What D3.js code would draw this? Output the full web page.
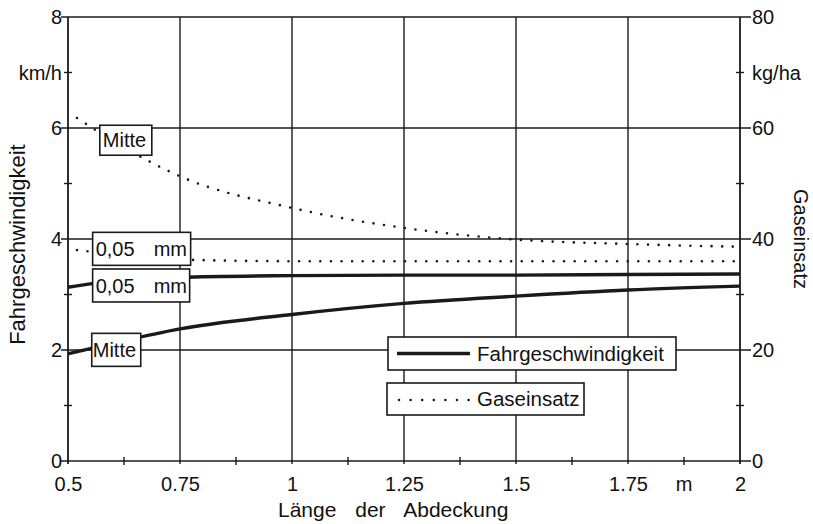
<!DOCTYPE html>
<html>
<head>
<meta charset="utf-8">
<script src="https://cdn.jsdelivr.net/npm/d3@7"></script>
<style>
  html, body { margin: 0; padding: 0; background: #fff; }
  svg { display: block; }
  text { font-family: "Liberation Sans", Arial, Helvetica, sans-serif; fill: #111; }
</style>
</head>
<body>
<svg id="chart" width="813" height="524"></svg>
<script>
// Length of the cover (m)
const xTicks = [0.5, 0.75, 1, 1.25, 1.5, 1.75, 2];
const xTickLabels = ["0.5", "0.75", "1", "1.25", "1.5", "1.75", "2"];
const xMinor = [0.625, 0.875, 1.125, 1.375, 1.625, 1.875];

// Left axis: driving speed (km/h)
const speedTicks = [0, 2, 4, 6, 8];
const speedMinor = [1, 3, 5, 7];
// Right axis: gas input (kg/ha)
const gasTicks = [0, 20, 40, 60, 80];
const gasMinor = [10, 30, 50, 70];

// Fahrgeschwindigkeit (km/h)
const speedLength = [0.5, 0.6, 0.75, 1, 1.25, 1.5, 1.75, 2];
const speedMitte  = [1.93, 2.12, 2.38, 2.64, 2.84, 2.97, 3.08, 3.15];
const speed005    = [3.13, 3.24, 3.31, 3.34, 3.35, 3.35, 3.36, 3.37];

// Gaseinsatz (kg/ha)
const gasLength = [0.52, 0.6, 0.75, 1, 1.25, 1.5, 1.75, 2];
const gasMitte  = [61.8, 57.7, 51.3, 45.6, 42.0, 39.9, 39.1, 38.6];
const gas005    = [38.0, 37.3, 36.3, 36.0, 36.0, 36.0, 36.0, 36.0];

const svg = d3.select("#chart");
const L = 68, R = 740, T = 17, B = 461;
const ink = "#1a1a1a";

const x = d3.scaleLinear().domain([0.5, 2]).range([L, R]);
const yL = d3.scaleLinear().domain([0, 8]).range([B, T]);
const yR = d3.scaleLinear().domain([0, 80]).range([B, T]);

const grid = svg.append("g").attr("stroke", ink).attr("stroke-width", 1.4).attr("fill", "none");

// horizontal grid lines, extended past both axes as ticks
grid.selectAll("line.h").data(speedTicks).join("line")
  .attr("x1", L - 7).attr("x2", R + 11)
  .attr("y1", d => yL(d)).attr("y2", d => yL(d));

// vertical grid lines incl. both axes
grid.selectAll("line.v").data(xTicks).join("line")
  .attr("x1", d => x(d)).attr("x2", d => x(d))
  .attr("y1", T).attr("y2", B + 3)
  .attr("stroke-width", (d, i) => (i === 0 || i === xTicks.length - 1) ? 1.8 : 1.4);

// minor crossing ticks on left and right axes
[L, R].forEach(ax => {
  grid.append("g").selectAll("line").data(speedMinor).join("line")
    .attr("x1", ax - 4).attr("x2", ax + 4)
    .attr("y1", d => yL(d)).attr("y2", d => yL(d));
});
// minor crossing ticks on bottom axis
grid.append("g").selectAll("line").data(xMinor).join("line")
  .attr("x1", d => x(d)).attr("x2", d => x(d))
  .attr("y1", B - 4).attr("y2", B + 4);

// axes through d3 (labels only; lines drawn above)
const axLeft = svg.append("g").attr("transform", `translate(${L},0)`)
  .call(d3.axisLeft(yL).tickValues(speedTicks).tickSize(0).tickPadding(6).tickFormat(d3.format("d")));
const axRight = svg.append("g").attr("transform", `translate(${R},0)`)
  .call(d3.axisRight(yR).tickValues(gasTicks).tickSize(0).tickPadding(12).tickFormat(d3.format("d")));
const axBottom = svg.append("g").attr("transform", `translate(0,${B})`)
  .call(d3.axisBottom(x).tickValues(xTicks).tickSize(0).tickPadding(16).tickFormat((d, i) => xTickLabels[i]));

[axLeft, axRight, axBottom].forEach(g => {
  g.select(".domain").remove();
  g.selectAll("text").attr("font-size", 20).attr("fill", ink)
    .attr("font-family", "'Liberation Sans', Arial, Helvetica, sans-serif");
});

// unit labels
svg.append("text").attr("x", L - 6).attr("y", yL(7)).attr("dy", "0.35em")
  .attr("text-anchor", "end").attr("font-size", 20).text("km/h");
svg.append("text").attr("x", R + 12).attr("y", yR(70)).attr("dy", "0.35em")
  .attr("text-anchor", "start").attr("font-size", 20).text("kg/ha");
svg.append("text").attr("x", x(1.875)).attr("y", B + 16).attr("dy", "0.71em")
  .attr("text-anchor", "middle").attr("font-size", 20).text("m");

// axis titles
svg.append("text").attr("transform", `translate(25,${yL(3.9)}) rotate(-90)`)
  .attr("text-anchor", "middle").attr("font-size", 22).text("Fahrgeschwindigkeit");
svg.append("text").attr("transform", `translate(794,${yL(4)}) rotate(90)`)
  .attr("text-anchor", "middle").attr("font-size", 20).text("Gaseinsatz");
svg.append("text").attr("x", 278).attr("y", 517)
  .attr("font-size", 21).attr("word-spacing", 13).text("Länge der Abdeckung");

// data lines
const speedLine = d3.line().curve(d3.curveMonotoneX).x(d => x(d[0])).y(d => yL(d[1]));
const gasLine = d3.line().curve(d3.curveMonotoneX).x(d => x(d[0])).y(d => yR(d[1]));

const solid = s => svg.append("path").attr("d", speedLine(d3.zip(speedLength, s)))
  .attr("fill", "none").attr("stroke", ink).attr("stroke-width", 3.4).attr("stroke-linejoin", "round");
solid(speedMitte);
solid(speed005);

const dotted = s => svg.append("path").attr("d", gasLine(d3.zip(gasLength, s)))
  .attr("fill", "none").attr("stroke", ink).attr("stroke-width", 2.6)
  .attr("stroke-linecap", "round").attr("stroke-dasharray", "0 10.6");
dotted(gasMitte);
dotted(gas005);

// curve labels in white boxes
function box(x0, y0, w, h) {
  svg.append("rect").attr("x", x0).attr("y", y0).attr("width", w).attr("height", h)
    .attr("fill", "#fff").attr("stroke", ink).attr("stroke-width", 1.6);
}
function label(x0, y0, w, h, parts) {
  box(x0, y0, w, h);
  parts.forEach(p => svg.append("text").attr("x", x0 + p[0]).attr("y", y0 + h / 2).attr("dy", "0.36em")
    .attr("font-size", 20).text(p[1]));
}
label(x(0.571), yR(60.5), 52, 30, [[3, "Mitte"]]);
label(x(0.555), yR(41.2), 98, 33, [[3, "0,05"], [61, "mm"]]);
label(x(0.555), yL(3.46), 97, 33, [[3, "0,05"], [61, "mm"]]);
label(x(0.553), yL(2.3), 49, 33, [[1, "Mitte"]]);

// legend
box(388, 337, 288, 33);
svg.append("line").attr("x1", 397).attr("x2", 470).attr("y1", 353.5).attr("y2", 353.5)
  .attr("stroke", ink).attr("stroke-width", 3.4);
svg.append("text").attr("x", 477).attr("y", 353.5).attr("dy", "0.36em").attr("font-size", 20.5)
  .text("Fahrgeschwindigkeit");

box(387, 383, 197, 32);
svg.append("line").attr("x1", 399).attr("x2", 469).attr("y1", 400).attr("y2", 400)
  .attr("stroke", ink).attr("stroke-width", 2.6).attr("stroke-linecap", "round")
  .attr("stroke-dasharray", "0 11.6");
svg.append("text").attr("x", 477).attr("y", 399).attr("dy", "0.36em").attr("font-size", 20.5)
  .text("Gaseinsatz");
</script>
</body>
</html>
